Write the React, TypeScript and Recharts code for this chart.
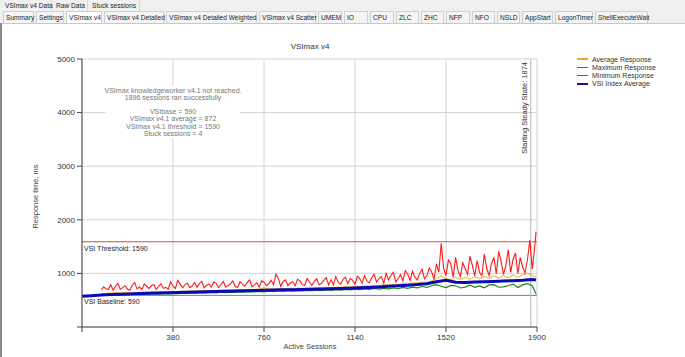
import { CartesianGrid, Line, LineChart, ReferenceLine, XAxis, YAxis } from "recharts";

const topTabs = ["VSImax v4 Data", "Raw Data", "Stuck sessions"];
const topTabX = [3, 54, 90, 142];
const tabs = [
  "Summary", "Settings", "VSImax v4", "VSImax v4 Detailed", "VSImax v4 Detailed Weighted",
  "VSImax v4 Scatter", "UMEM", "IO", "CPU", "ZLC", "ZHC", "NFP", "NFO", "NSLD",
  "AppStart", "LogonTimer", "ShellExecuteWait"
];
const tabX = [3, 36, 66, 104, 166, 259, 318, 344, 370, 396, 421, 446, 472, 497, 522, 555, 595, 650];

const xTicks = [0, 380, 760, 1140, 1520, 1900];
const yTicks = [0, 1000, 2000, 3000, 4000, 5000];
const lastSession = 1896;
const vsiBase = 590;
const vsiThreshold = 1590;
const steadyState = 1874;

const notes = [
  "VSImax knowledgeworker v4.1 not reached.",
  "1896 sessions ran successfully",
  "",
  "VSIbase = 590",
  "VSImax v4.1 average = 872",
  "VSImax v4.1 threshold = 1590",
  "Stuck sessions = 4"
];

// Maximum Response, sessions 80..1890 every 10, then 1896
const maxResponse = [
  690, 745, 720, 700, 790, 685, 760, 815, 700, 735,
  770, 705, 690, 780, 830, 710, 745, 700, 800, 760,
  715, 775, 790, 700, 760, 805, 720, 740, 705, 845,
  760, 720, 870, 800, 730, 790, 820, 735, 765, 830,
  740, 810, 855, 730, 775, 800, 745, 840, 815, 735,
  790, 850, 745, 770, 805, 860, 750, 740, 845, 800,
  760, 830, 880, 750, 790, 825, 745, 860, 835, 770,
  810, 870, 790, 985, 900, 760, 850, 880, 770, 820,
  845, 770, 890, 860, 790, 775, 905, 840, 780, 850,
  900, 790, 815, 870, 920, 785, 880, 790, 940, 830,
  800, 890, 930, 810, 905, 870, 800, 950, 900, 820,
  960, 850, 830, 920, 985, 840, 900, 940, 815, 1000,
  880, 960, 1020, 840, 905, 975, 860, 1050, 990, 870,
  1040, 930, 880, 1000, 1080, 900, 960, 1100, 1030, 890,
  1180, 1020, 1560, 1100, 960, 1250, 1180, 930, 1300, 1050,
  940, 1200, 1090, 980, 1320, 1150, 950, 1240, 1020, 960,
  1360, 1100, 960, 1180, 1290, 990, 1410, 1230, 980, 1150,
  1440, 1020, 1260, 1380, 1000, 1300, 1120, 1010, 1250, 1620,
  1080, 1470, 1780
];

// Average Response, sessions 80..1880 every 20, then 1896
const avgResponse = [
  615, 628, 630, 638, 635, 642, 640, 648, 645, 652,
  650, 656, 655, 660, 658, 665, 663, 670, 668, 675,
  672, 678, 676, 684, 680, 688, 686, 692, 690, 696,
  694, 700, 698, 706, 730, 710, 706, 714, 710, 718,
  716, 724, 720, 728, 726, 734, 730, 738, 736, 745,
  742, 752, 748, 760, 756, 768, 764, 778, 772, 788,
  782, 798, 792, 810, 804, 824, 818, 840, 834, 860,
  900, 950, 905, 880, 930, 885, 925, 890, 940, 900,
  945, 905, 955, 915, 960, 920, 970, 925, 975, 1000,
  960, 930
];

// Minimum Response, sessions 80..1880 every 20, then 1896
const minResponse = [
  590, 600, 595, 605, 598, 610, 602, 612, 605, 615,
  612, 620, 615, 625, 618, 628, 622, 632, 626, 635,
  630, 640, 634, 644, 638, 648, 642, 652, 646, 655,
  650, 660, 654, 664, 656, 668, 660, 672, 664, 676,
  668, 680, 672, 684, 676, 688, 680, 692, 684, 696,
  688, 700, 692, 706, 696, 712, 700, 718, 706, 722,
  712, 730, 716, 738, 722, 745, 730, 755, 740, 770,
  790, 760, 735, 775, 770, 728, 745, 780, 740, 765,
  732, 785, 790, 742, 748, 770, 800, 735, 785, 810,
  770, 620
];

// VSI Index Average, sessions 0..1880 every 40, then 1896
const vsiIndexAvg = [
  575, 585, 596, 605, 612, 618, 623, 628, 633, 638,
  643, 648, 653, 658, 663, 668, 672, 676, 680, 684,
  689, 693, 697, 701, 705, 709, 713, 718, 724, 731,
  739, 748, 758, 768, 779, 792, 808, 845, 872, 835,
  832, 838, 845, 851, 858, 865, 874, 888, 875
];

const toRows = (values: number[], start: number, step: number) =>
  values.map((v, i) => ({ s: i < values.length - 1 ? start + i * step : lastSession, v }));

const maxData = toRows(maxResponse, 80, 10);
const avgData = toRows(avgResponse, 80, 20);
const minData = toRows(minResponse, 80, 20);
const vsiData = toRows(vsiIndexAvg, 0, 40);

const legend = [
  { name: "Average Response", color: "#f4a81d", w: 1.5 },
  { name: "Maximum Response", color: "#e52222", w: 1.5 },
  { name: "Minimum Response", color: "#1a8a1a", w: 1.5 },
  { name: "VSI Index Average", color: "#1010b8", w: 2.5 }
];

const font = "'Liberation Sans', Arial, sans-serif";
const tickStyle = { fontSize: 8, fill: "#333", fontFamily: font };

function HLineLabel({ viewBox, text }: any) {
  return (
    <text x={viewBox.x + 2} y={viewBox.y + 9} fontSize={7} fill="#222" fontFamily={font}>
      {text}
    </text>
  );
}

function SteadyLabel({ viewBox }: any) {
  const x = viewBox.x - 4;
  const y = 62;
  return (
    <text x={x} y={y} fontSize={7.5} fill="#333" fontFamily={font} textAnchor="end"
      transform={`rotate(-90 ${x} ${y})`}>
      {`Starting Steady State: ${steadyState}`}
    </text>
  );
}

export default function App() {
  return (
    <div style={{ position: "fixed", left: 0, top: 0, width: 685, height: 357, background: "#fff", overflow: "hidden", fontFamily: font }}>
      <LineChart width={685} height={357} margin={{ top: 59, right: 148, bottom: 10, left: 22 }}>
        <CartesianGrid stroke="#d4d4d4" />
        <XAxis dataKey="s" type="number" domain={[0, 1900]} ticks={xTicks} interval={0}
          tickFormatter={(v) => (v === 0 ? "" : String(v))} tick={tickStyle}
          stroke="#444" tickSize={5} height={20} allowDuplicatedCategory={false} />
        <YAxis type="number" domain={[0, 5000]} ticks={yTicks} interval={0}
          tickFormatter={(v) => (v === 0 ? "" : String(v))} tick={tickStyle}
          stroke="#444" tickSize={5} width={60} />
        <ReferenceLine y={vsiThreshold} stroke="#e04848"
          label={(p: any) => <HLineLabel {...p} text={`VSI Threshold: ${vsiThreshold}`} />} />
        <ReferenceLine y={vsiBase} stroke="#7070e8"
          label={(p: any) => <HLineLabel {...p} text={`VSI Baseline: ${vsiBase}`} />} />
        <ReferenceLine x={steadyState} stroke="#b8b8b8" label={(p: any) => <SteadyLabel {...p} />} />
        <Line data={avgData} dataKey="v" stroke="#f4a81d" strokeWidth={1} dot={false} isAnimationActive={false} />
        <Line data={maxData} dataKey="v" stroke="#ff1a1a" strokeWidth={1.1} dot={false} isAnimationActive={false} />
        <Line data={minData} dataKey="v" stroke="#1a8a1a" strokeWidth={1.2} dot={false} isAnimationActive={false} />
        <Line data={vsiData} dataKey="v" stroke="#0a0ab8" strokeWidth={3} dot={false} isAnimationActive={false} />
      </LineChart>

      {/* tab strip */}
      <div style={{ position: "absolute", left: 0, top: 0, width: 685, height: 23, background: "#f0f0f0", borderBottom: "1px solid #c8c8c8" }} />
      {topTabs.map((t, i) => (
        <div key={t} style={{ position: "absolute", left: topTabX[i], top: 0, width: topTabX[i + 1] - topTabX[i] - 2, height: 11, fontSize: 6.6, lineHeight: "11px", color: "#222", paddingLeft: 2, boxSizing: "border-box", borderRight: "1px solid #d8d8d8", whiteSpace: "nowrap" }}>{t}</div>
      ))}
      {tabs.map((t, i) => (
        <div key={t} style={{
          position: "absolute", left: tabX[i], top: 11, width: tabX[i + 1] - tabX[i] - 2, height: 12,
          fontSize: 6.6, lineHeight: "11px", color: "#222", textAlign: "left", paddingLeft: 2, boxSizing: "border-box",
          border: "1px solid #d0d0d0", borderBottom: "none",
          background: t === "VSImax v4" ? "#fff" : "#f4f4f4", whiteSpace: "nowrap"
        }}>{t}</div>
      ))}
      <div style={{ position: "absolute", left: 0, top: 23, width: 2, height: 334, background: "#8a8a8a" }} />

      {/* title */}
      <div style={{ position: "absolute", left: 260, width: 100, top: 42, textAlign: "center", fontSize: 8, color: "#333" }}>VSImax v4</div>

      {/* notes box */}
      <div style={{ position: "absolute", left: 106, top: 86, width: 134, height: 52, background: "#fff" }} />
      {notes.map((n, i) => (
        <div key={i} style={{ position: "absolute", left: 93, width: 160, top: 86.5 + i * 7.2, textAlign: "center", fontSize: 7, lineHeight: "7px", color: "#777", whiteSpace: "nowrap" }}>{n}</div>
      ))}

      {/* axis titles */}
      <div style={{ position: "absolute", left: -15, top: 192, width: 100, textAlign: "center", fontSize: 7.5, lineHeight: "9px", color: "#444", transform: "rotate(-90deg)" }}>Response time, ms</div>
      <div style={{ position: "absolute", left: 260, top: 342, width: 100, textAlign: "center", fontSize: 7.5, lineHeight: "9px", color: "#444" }}>Active Sessions</div>

      {/* legend */}
      {legend.map((l, i) => (
        <div key={l.name} style={{ position: "absolute", left: 577, top: 55 + i * 8.3, height: 8, display: "flex", alignItems: "center" }}>
          <div style={{ width: 11, height: l.w, background: l.color, marginRight: 4 }} />
          <span style={{ fontSize: 7, color: "#333", whiteSpace: "nowrap" }}>{l.name}</span>
        </div>
      ))}
    </div>
  );
}
